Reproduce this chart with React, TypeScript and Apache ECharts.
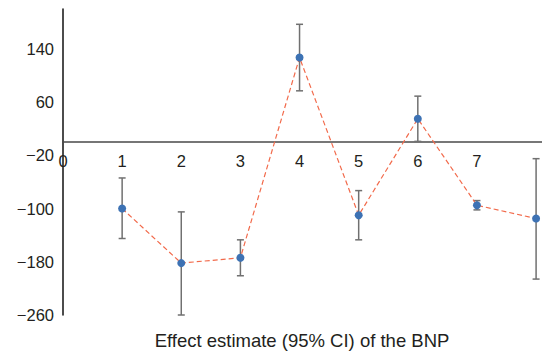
import React, { useEffect, useRef } from "react";
import * as echarts from "echarts";

const xPositions = [1, 2, 3, 4, 5, 6, 7, 8];
const estimates = [-100, -182, -174, 127, -110, 35, -95, -115];
const lowerCI = [-145, -260, -201, 77, -147, 1, -102, -206];
const upperCI = [-54, -105, -147, 177, -73, 69, -88, -25];
const yTickLabels = [-260, -180, -100, -20, 60, 140];
const xTickLabels = [0, 1, 2, 3, 4, 5, 6, 7];
const xTitle = "Effect estimate (95% CI) of the BNP";

const FONT = "'Liberation Sans', Arial, Helvetica, sans-serif";
const Y_MIN = -260;
const Y_MAX = 200;
const GRID_TOP = 9;
const GRID_BOTTOM = 37;
const H = 352;

export default function App() {
  const ref = useRef<HTMLDivElement>(null);
  useEffect(() => {
    document.body.style.margin = "0";
    const chart = echarts.init(ref.current!, null, { renderer: "svg" });
    const errData = xPositions.map((x, i) => [x, lowerCI[i], upperCI[i]]);
    const plotH = H - GRID_TOP - GRID_BOTTOM;
    const zeroOffset = -(plotH * (0 - Y_MIN)) / (Y_MAX - Y_MIN);
    chart.setOption({
      animation: false,
      grid: { left: 63, right: 0, top: GRID_TOP, bottom: GRID_BOTTOM, containLabel: false },
      xAxis: {
        type: "value",
        min: 0,
        max: 8.1,
        position: "bottom",
        offset: zeroOffset,
        axisLine: { onZero: false, lineStyle: { color: "#4a4a4a", width: 1.5 } },
        axisTick: { show: false },
        splitLine: { show: false },
        axisLabel: {
          customValues: xTickLabels,
          color: "#231f20",
          fontSize: 16.5,
          fontFamily: FONT,
          margin: 10,
        },
      },
      yAxis: {
        type: "value",
        min: Y_MIN,
        max: Y_MAX,
        axisLine: { show: true, onZero: false, lineStyle: { color: "#111", width: 1.5 } },
        axisTick: { show: false },
        splitLine: { show: false },
        axisLabel: {
          customValues: yTickLabels,
          color: "#231f20",
          fontSize: 16.5,
          fontFamily: FONT,
          margin: 9,
          formatter: (v: number) => (v < 0 ? "\u2212" + Math.abs(v) : String(v)),
        },
      },
      graphic: [
        {
          type: "text",
          x: 302,
          y: 340,
          style: {
            text: xTitle,
            fill: "#231f20",
            font: `18.5px ${FONT}`,
            align: "center",
            verticalAlign: "middle",
          },
        },
      ],
      series: [
        {
          type: "custom",
          data: errData,
          z: 1,
          renderItem: (params: any, api: any) => {
            const x = api.value(0);
            const lo = api.coord([x, api.value(1)]);
            const hi = api.coord([x, api.value(2)]);
            const hw = 3.5;
            const style = { stroke: "#707070", lineWidth: 1.5 };
            return {
              type: "group",
              children: [
                { type: "line", shape: { x1: lo[0], y1: lo[1], x2: hi[0], y2: hi[1] }, style },
                { type: "line", shape: { x1: lo[0] - hw, y1: lo[1], x2: lo[0] + hw, y2: lo[1] }, style },
                { type: "line", shape: { x1: hi[0] - hw, y1: hi[1], x2: hi[0] + hw, y2: hi[1] }, style },
              ],
            };
          },
        },
        {
          type: "line",
          data: xPositions.map((x, i) => [x, estimates[i]]),
          z: 2,
          symbol: "circle",
          symbolSize: 8,
          itemStyle: { color: "#3d72b4" },
          lineStyle: { color: "#f26a4b", width: 1.2, type: [5, 3] },
        },
      ],
    });
    return () => chart.dispose();
  }, []);
  return <div ref={ref} style={{ width: 542, height: 352 }} />;
}
